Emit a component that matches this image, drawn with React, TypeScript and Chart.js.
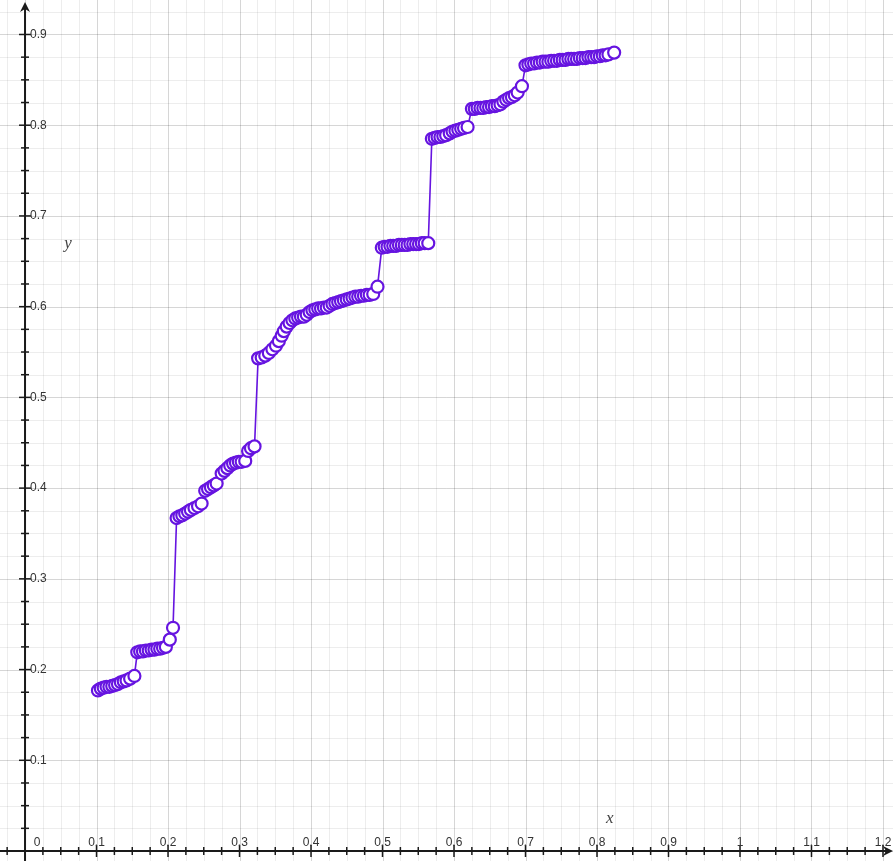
import React, { useEffect, useRef } from "react";
import { Chart, registerables } from "chart.js";

Chart.register(...registerables);

const xValues: number[] = [
  0.102, 0.106, 0.110, 0.114, 0.118, 0.122, 0.126, 0.130, 0.134, 0.138, 0.142, 0.147, 0.153,
  0.157, 0.161, 0.165, 0.169, 0.173, 0.177, 0.181, 0.185, 0.189, 0.193, 0.197, 0.2025, 0.207,
  0.212, 0.216, 0.220, 0.224, 0.228, 0.232, 0.237, 0.242, 0.247,
  0.252, 0.256, 0.260, 0.264, 0.268,
  0.275, 0.279, 0.283, 0.287, 0.291, 0.295, 0.299, 0.303, 0.308,
  0.312, 0.316, 0.321,
  0.326, 0.331, 0.336, 0.341, 0.346, 0.351, 0.355, 0.359, 0.362, 0.366,
  0.370, 0.374, 0.378, 0.382, 0.386, 0.390, 0.394, 0.398, 0.402, 0.406,
  0.410, 0.414, 0.418, 0.422, 0.426, 0.430, 0.434, 0.438, 0.442, 0.446,
  0.450, 0.454, 0.458, 0.462, 0.466, 0.470, 0.474, 0.478, 0.482, 0.487,
  0.493,
  0.499, 0.503, 0.507, 0.511, 0.515, 0.519, 0.523, 0.527, 0.531, 0.535, 0.539, 0.543, 0.547, 0.551, 0.555, 0.559, 0.564,
  0.569, 0.573, 0.577, 0.581, 0.585, 0.589, 0.594,
  0.598, 0.602, 0.606, 0.610, 0.614, 0.619,
  0.625, 0.629, 0.633, 0.637, 0.641, 0.645, 0.649, 0.653, 0.657, 0.661, 0.665,
  0.669, 0.673, 0.677, 0.681, 0.685, 0.689,
  0.695,
  0.700, 0.704, 0.708, 0.712, 0.716, 0.720, 0.724, 0.728, 0.732, 0.736,
  0.740, 0.744, 0.748, 0.752, 0.756, 0.760, 0.764, 0.768, 0.772, 0.776,
  0.780, 0.784, 0.788, 0.792, 0.796, 0.800, 0.804, 0.808, 0.812, 0.816,
  0.824,
];

const yValues: number[] = [
  0.177, 0.179, 0.180, 0.181, 0.181, 0.182, 0.183, 0.184, 0.186, 0.187, 0.188, 0.190, 0.193,
  0.219, 0.220, 0.220, 0.221, 0.221, 0.222, 0.222, 0.223, 0.223, 0.224, 0.225, 0.233, 0.246,
  0.367, 0.369, 0.370, 0.372, 0.374, 0.376, 0.378, 0.380, 0.383,
  0.397, 0.399, 0.401, 0.403, 0.405,
  0.416, 0.419, 0.422, 0.425, 0.427, 0.428, 0.429, 0.429, 0.430,
  0.441, 0.444, 0.446,
  0.543, 0.544, 0.546, 0.549, 0.553, 0.557, 0.562, 0.568, 0.573, 0.578,
  0.582, 0.585, 0.587, 0.588, 0.589, 0.589, 0.591, 0.594, 0.596, 0.597,
  0.598, 0.598, 0.599, 0.599, 0.601, 0.603, 0.604, 0.605, 0.606, 0.607,
  0.608, 0.609, 0.610, 0.611, 0.611, 0.612, 0.612, 0.613, 0.613, 0.614,
  0.622,
  0.665, 0.666, 0.666, 0.667, 0.667, 0.667, 0.668, 0.668, 0.668, 0.668, 0.669, 0.669, 0.669, 0.669, 0.670, 0.670, 0.670,
  0.785, 0.786, 0.787, 0.787, 0.788, 0.789, 0.791,
  0.793, 0.794, 0.795, 0.796, 0.797, 0.798,
  0.818, 0.818, 0.819, 0.819, 0.819, 0.820, 0.820, 0.821, 0.821, 0.822, 0.823,
  0.826, 0.828, 0.830, 0.831, 0.833, 0.836,
  0.843,
  0.866, 0.867, 0.868, 0.868, 0.869, 0.869, 0.870, 0.870, 0.870, 0.871,
  0.871, 0.871, 0.872, 0.872, 0.872, 0.873, 0.873, 0.873, 0.873, 0.874,
  0.874, 0.874, 0.875, 0.875, 0.875, 0.876, 0.876, 0.877, 0.877, 0.878,
  0.880,
];

const xTickValues: number[] = [0.1, 0.2, 0.3, 0.4, 0.5, 0.6, 0.7, 0.8, 0.9, 1, 1.1, 1.2];
const xTickLabels: string[] = ["0.1", "0.2", "0.3", "0.4", "0.5", "0.6", "0.7", "0.8", "0.9", "1", "1.1", "1.2"];
const yTickValues: number[] = [0.1, 0.2, 0.3, 0.4, 0.5, 0.6, 0.7, 0.8, 0.9];
const yTickLabels: string[] = ["0.1", "0.2", "0.3", "0.4", "0.5", "0.6", "0.7", "0.8", "0.9"];
const originLabel = "0";

const X_MIN = -0.035;
const X_MAX = 1.214;
const Y_MIN = -0.011;
const Y_MAX = 0.938;
const MINOR = 0.025;

const PURPLE = "rgb(102, 20, 224)";

const axesPlugin = {
  id: "mathAxes",
  beforeDatasetsDraw(chart: any) {
    const ctx: CanvasRenderingContext2D = chart.ctx;
    const xs = chart.scales.x;
    const ys = chart.scales.y;
    const { left, right, top, bottom } = chart.chartArea;
    const x0 = xs.getPixelForValue(0);
    const y0 = ys.getPixelForValue(0);
    ctx.save();
    // grid
    const kxMin = Math.ceil(X_MIN / MINOR);
    const kxMax = Math.floor(X_MAX / MINOR);
    for (let k = kxMin; k <= kxMax; k++) {
      const px = Math.round(xs.getPixelForValue(k * MINOR)) + 0.5;
      const major = k % 4 === 0;
      ctx.strokeStyle = major ? "rgba(0,0,0,0.16)" : "rgba(0,0,0,0.07)";
      ctx.lineWidth = 1;
      ctx.beginPath();
      ctx.moveTo(px, top);
      ctx.lineTo(px, bottom);
      ctx.stroke();
    }
    const kyMin = Math.ceil(Y_MIN / MINOR);
    const kyMax = Math.floor(Y_MAX / MINOR);
    for (let k = kyMin; k <= kyMax; k++) {
      const py = Math.round(ys.getPixelForValue(k * MINOR)) + 0.5;
      const major = k % 4 === 0;
      ctx.strokeStyle = major ? "rgba(0,0,0,0.16)" : "rgba(0,0,0,0.07)";
      ctx.lineWidth = 1;
      ctx.beginPath();
      ctx.moveTo(left, py);
      ctx.lineTo(right, py);
      ctx.stroke();
    }
    // axes
    ctx.strokeStyle = "#1a1a1a";
    ctx.fillStyle = "#1a1a1a";
    ctx.lineWidth = 2;
    ctx.beginPath();
    ctx.moveTo(left, y0);
    ctx.lineTo(right - 4, y0);
    ctx.moveTo(x0, bottom);
    ctx.lineTo(x0, top + 4);
    ctx.stroke();
    // arrows
    ctx.beginPath();
    ctx.moveTo(right, y0);
    ctx.lineTo(right - 10, y0 - 5);
    ctx.lineTo(right - 7, y0);
    ctx.lineTo(right - 10, y0 + 5);
    ctx.closePath();
    ctx.fill();
    ctx.beginPath();
    ctx.moveTo(x0, top + 2);
    ctx.lineTo(x0 - 5, top + 12);
    ctx.lineTo(x0, top + 9);
    ctx.lineTo(x0 + 5, top + 12);
    ctx.closePath();
    ctx.fill();
    // tick marks
    ctx.lineWidth = 1.5;
    for (let k = kxMin; k <= kxMax; k++) {
      if (k === 0) continue;
      const px = xs.getPixelForValue(k * MINOR);
      const len = k % 4 === 0 ? 6 : 4;
      ctx.beginPath();
      ctx.moveTo(px, y0 - len);
      ctx.lineTo(px, y0 + len);
      ctx.stroke();
    }
    for (let k = kyMin; k <= 36; k++) {
      if (k === 0) continue;
      const py = ys.getPixelForValue(k * MINOR);
      const len = k % 4 === 0 ? 6 : 4;
      ctx.beginPath();
      ctx.moveTo(x0 - len, py);
      ctx.lineTo(x0 + len, py);
      ctx.stroke();
    }
    // tick labels
    ctx.fillStyle = "#333";
    ctx.font = "12px 'Liberation Sans', Arial, sans-serif";
    ctx.textAlign = "center";
    ctx.textBaseline = "alphabetic";
    xTickValues.forEach((v, i) => {
      ctx.fillText(xTickLabels[i], xs.getPixelForValue(v), y0 - 5);
    });
    ctx.fillText(originLabel, x0 + 12, y0 - 5);
    ctx.textAlign = "left";
    ctx.textBaseline = "middle";
    yTickValues.forEach((v, i) => {
      ctx.fillText(yTickLabels[i], x0 + 5, ys.getPixelForValue(v));
    });
    // axis titles
    ctx.fillStyle = "#444";
    ctx.font = "italic 17px 'Liberation Serif', 'Times New Roman', serif";
    ctx.textAlign = "center";
    ctx.textBaseline = "middle";
    ctx.fillText("x", xs.getPixelForValue(0.818), ys.getPixelForValue(0.036));
    ctx.fillText("y", xs.getPixelForValue(0.06), ys.getPixelForValue(0.67));
    ctx.restore();
  },
};

export default function App() {
  const canvasRef = useRef<HTMLCanvasElement | null>(null);

  useEffect(() => {
    if (!canvasRef.current) return;
    const data = xValues.map((x, i) => ({ x, y: yValues[i] }));
    const chart = new Chart(canvasRef.current, {
      type: "scatter",
      data: {
        datasets: [
          {
            data,
            showLine: true,
            borderColor: PURPLE,
            borderWidth: 1.6,
            pointRadius: 6,
            pointBorderWidth: 2.2,
            pointBorderColor: PURPLE,
            pointBackgroundColor: "#ffffff",
            tension: 0,
            clip: false,
          },
        ],
      },
      options: {
        animation: false,
        responsive: false,
        devicePixelRatio: 1,
        layout: { padding: 0, autoPadding: false },
        plugins: { legend: { display: false }, tooltip: { enabled: false } },
        scales: {
          x: { type: "linear", min: X_MIN, max: X_MAX, display: false },
          y: { type: "linear", min: Y_MIN, max: Y_MAX, display: false },
        },
      },
      plugins: [axesPlugin],
    });
    return () => chart.destroy();
  }, []);

  return (
    <div style={{ position: "fixed", left: 0, top: 0, width: 893, height: 861, background: "#fff" }}>
      <canvas ref={canvasRef} width={893} height={861} style={{ width: 893, height: 861, display: "block" }} />
    </div>
  );
}
